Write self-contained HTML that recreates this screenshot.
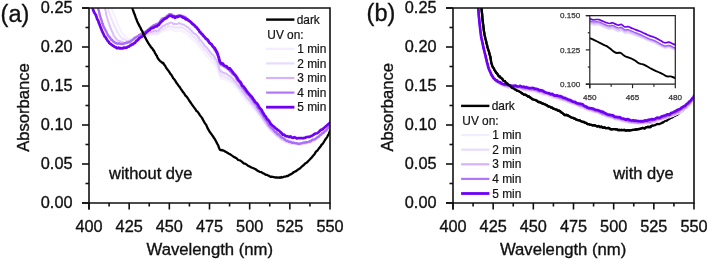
<!DOCTYPE html>
<html><head><meta charset="utf-8"><style>
html,body{margin:0;padding:0;background:#fff;overflow:hidden;width:708px;height:261px;}
svg{display:block;will-change:transform;}
text{font-family:"Liberation Sans",sans-serif;fill:#111;stroke:#111;stroke-width:0.35px;}
.leg text{stroke-width:0.2px;}
.ins text{fill:#333;stroke:#333;stroke-width:0.25px;}
</style></head><body>
<svg width="708" height="261" viewBox="0 0 708 261">
<defs>
<clipPath id="ca"><rect x="89" y="8" width="241" height="195"/></clipPath>
<clipPath id="cb"><rect x="453" y="8" width="241" height="195"/></clipPath>
<clipPath id="cb2"><rect x="453" y="8" width="200" height="195"/></clipPath>
<clipPath id="ci"><rect x="589.8" y="15.6" width="85.5" height="68.60000000000001"/></clipPath>
</defs>

<g clip-path="url(#ca)" fill="none" stroke-linejoin="round" stroke-linecap="round">
<path d="M110.0,3.1 L110.2,4.0 L110.4,4.6 L110.6,4.8 L110.8,6.3 L111.1,7.0 L111.5,7.8 L112.0,9.5 L112.5,11.0 L113.1,12.6 L113.8,14.2 L114.5,16.1 L115.1,17.4 L115.7,19.2 L116.4,20.7 L117.0,22.7 L117.7,24.2 L118.4,25.7 L119.1,27.0 L119.9,28.7 L120.6,30.3 L121.4,31.6 L122.2,33.4 L123.1,34.6 L123.9,34.4 L124.7,35.6 L125.6,36.9 L126.4,37.4 L127.3,38.1 L128.2,38.5 L129.0,39.5 L129.8,38.7 L130.6,39.1 L131.4,40.0 L132.3,39.5 L133.1,39.5 L134.0,39.0 L134.9,38.5 L135.9,38.9 L136.9,38.7 L138.0,38.0 L139.0,37.9 L140.0,37.8 L141.0,37.2 L141.9,37.2 L142.9,37.0 L143.9,36.6 L144.9,36.1 L146.0,36.2 L147.2,36.0 L148.5,35.5 L149.8,34.8 L151.2,34.9 L152.4,34.3 L153.5,34.6 L154.4,33.9 L155.3,34.6 L156.1,34.4 L156.8,34.1 L157.4,34.4 L158.1,34.4 L158.7,34.1 L159.3,33.3 L159.8,32.7 L160.3,32.6 L160.9,31.9 L161.5,31.7 L162.2,31.5 L163.0,30.5 L163.8,30.9 L164.6,31.0 L165.3,30.3 L166.1,30.0 L166.8,30.3 L167.5,29.9 L168.2,29.8 L168.9,29.2 L169.6,28.7 L170.3,29.2 L171.0,29.2 L171.8,29.9 L172.5,30.1 L173.3,30.0 L174.1,30.4 L174.9,31.3 L175.8,31.3 L176.6,30.7 L177.6,30.8 L178.5,30.7 L179.4,30.7 L180.3,30.9 L181.2,30.9 L182.1,31.1 L183.0,31.5 L183.8,32.4 L184.8,31.9 L185.7,33.2 L186.7,34.0 L187.7,34.3 L188.7,35.8 L189.8,36.4 L190.8,37.8 L191.8,38.4 L192.8,39.6 L193.8,40.8 L194.8,41.5 L195.7,42.1 L196.7,42.8 L197.5,44.8 L198.2,45.1 L198.9,45.8 L199.5,47.0 L200.1,47.7 L200.8,49.0 L201.5,49.6 L202.3,50.6 L203.1,51.3 L204.0,52.7 L204.9,53.2 L205.9,54.8 L206.9,56.3 L208.0,56.6 L209.2,57.7 L210.5,60.1 L211.7,62.2 L212.8,62.4 L213.8,63.5 L214.6,65.1 L215.2,65.4 L215.8,66.2 L216.3,67.0 L216.8,68.1 L217.3,68.8 L217.8,70.4 L218.3,71.8 L218.9,73.3 L219.3,75.1 L219.8,76.3 L220.3,77.6 L220.7,77.9 L221.1,78.2 L221.4,79.0 L221.8,78.5 L222.3,78.6 L223.0,79.0 L223.9,79.0 L225.0,79.4 L226.2,80.1 L227.5,80.5 L228.8,80.7 L230.0,82.0 L231.2,82.4 L232.3,83.2 L233.5,84.2 L234.6,85.5 L235.8,87.3 L236.9,87.6 L238.0,89.4 L239.0,90.0 L240.1,92.2 L241.1,94.0 L242.2,95.1 L243.4,96.6 L244.7,98.4 L246.1,100.2 L247.6,101.9 L249.1,103.9 L250.5,105.0 L251.8,106.2 L253.0,107.8 L254.1,109.1 L255.1,110.4 L256.1,111.6 L257.2,112.9 L258.2,113.6 L259.3,115.9 L260.3,116.9 L261.4,118.2 L262.4,120.3 L263.5,122.0 L264.5,123.2 L265.5,124.5 L266.6,125.5 L267.6,128.0 L268.7,128.7 L269.7,129.3 L270.8,130.6 L271.9,132.0 L273.0,132.6 L274.2,134.2 L275.3,135.0 L276.5,136.5 L277.7,137.3 L278.9,137.1 L280.2,138.9 L281.4,139.3 L282.7,141.0 L284.0,141.4 L285.3,142.2 L286.6,142.2 L287.9,143.6 L289.2,144.0 L290.4,143.3 L291.7,144.0 L293.0,143.9 L294.3,144.3 L295.5,144.1 L296.8,145.2 L298.1,144.4 L299.3,144.6 L300.6,144.9 L301.9,144.4 L303.2,144.3 L304.5,144.0 L305.7,143.8 L307.0,143.2 L308.3,143.0 L309.6,142.6 L310.8,142.0 L312.1,141.6 L313.4,140.8 L314.6,140.5 L315.9,139.4 L317.2,138.6 L318.5,137.5 L319.8,136.5 L321.1,135.2 L322.4,134.7 L323.6,133.1 L324.8,132.1 L326.0,131.3 L327.1,130.1 L328.2,128.7 L329.1,127.1 L330.0,126.9 L330.7,126.1 L331.3,125.0 L331.7,125.2 L332.1,124.3 L332.5,123.7 L333.0,123.5" stroke="#f6f0ff" stroke-width="2.0"/>
<path d="M106.5,3.1 L106.7,3.6 L106.9,4.4 L107.1,4.4 L107.3,6.6 L107.6,7.3 L107.9,7.9 L108.3,9.6 L108.7,10.9 L109.2,12.2 L109.8,14.4 L110.4,15.7 L111.0,17.5 L111.7,19.2 L112.5,21.5 L113.3,23.3 L114.2,25.5 L115.1,27.0 L115.9,28.9 L116.7,30.2 L117.5,32.3 L118.3,33.5 L119.1,34.8 L119.9,36.0 L120.7,36.6 L121.6,38.0 L122.4,39.1 L123.3,38.5 L124.2,39.0 L125.1,39.4 L126.0,40.5 L126.8,40.5 L127.7,40.9 L128.5,40.8 L129.3,40.6 L130.1,40.6 L131.0,40.2 L131.9,40.3 L132.9,39.4 L133.8,39.2 L134.8,39.0 L135.9,39.0 L137.0,37.8 L138.2,37.2 L139.5,36.8 L140.8,36.8 L142.2,35.9 L143.6,35.9 L145.0,34.4 L146.4,35.0 L147.9,34.6 L149.5,33.5 L150.9,33.7 L152.3,33.9 L153.5,33.3 L154.5,33.5 L155.4,33.9 L156.1,33.3 L156.8,33.1 L157.4,32.9 L158.1,33.1 L158.7,32.5 L159.3,32.0 L159.8,31.4 L160.3,31.0 L160.9,29.9 L161.5,29.2 L162.2,28.6 L163.0,29.4 L163.8,28.7 L164.6,28.8 L165.3,28.0 L166.1,27.5 L166.8,27.6 L167.5,27.1 L168.2,26.4 L168.9,26.2 L169.6,26.8 L170.3,26.3 L171.0,26.5 L171.8,26.5 L172.5,26.8 L173.3,27.6 L174.1,27.6 L174.9,27.6 L175.8,27.8 L176.6,27.4 L177.6,27.6 L178.5,27.7 L179.4,26.9 L180.3,27.7 L181.2,27.2 L182.1,27.8 L183.0,27.9 L183.8,28.5 L184.8,29.2 L185.7,29.6 L186.7,30.2 L187.7,31.0 L188.7,31.8 L189.8,32.4 L190.8,33.8 L191.8,34.9 L192.8,35.9 L193.8,36.8 L194.8,38.3 L195.7,38.6 L196.7,39.3 L197.5,40.9 L198.2,40.9 L198.9,42.4 L199.5,42.6 L200.1,43.9 L200.8,44.1 L201.5,45.9 L202.3,46.5 L203.1,47.2 L204.0,49.0 L204.9,49.8 L205.9,50.6 L206.9,51.5 L208.0,53.1 L209.2,54.5 L210.5,56.2 L211.7,57.7 L212.8,58.7 L213.8,59.9 L214.6,61.0 L215.2,61.6 L215.8,62.6 L216.3,63.5 L216.8,64.6 L217.3,65.9 L217.8,66.6 L218.3,68.7 L218.9,70.1 L219.3,72.6 L219.8,73.4 L220.3,74.6 L220.7,74.8 L221.1,75.2 L221.4,75.6 L221.8,75.4 L222.3,75.7 L223.0,75.4 L223.9,76.5 L225.0,76.5 L226.2,77.8 L227.5,77.8 L228.8,78.9 L230.0,78.9 L231.2,80.4 L232.3,81.0 L233.5,82.2 L234.6,83.5 L235.8,84.6 L236.9,86.1 L238.0,87.6 L239.0,88.9 L240.1,90.2 L241.1,91.3 L242.2,93.0 L243.4,94.7 L244.7,95.7 L246.1,98.2 L247.6,99.6 L249.1,101.3 L250.5,103.3 L251.8,104.7 L253.0,106.0 L254.1,107.0 L255.1,108.7 L256.1,110.0 L257.2,110.9 L258.2,112.9 L259.3,114.2 L260.3,115.0 L261.4,117.2 L262.4,118.3 L263.5,120.7 L264.5,122.0 L265.5,122.9 L266.6,124.3 L267.6,126.0 L268.7,127.3 L269.7,129.1 L270.8,130.1 L271.9,131.0 L273.0,132.3 L274.2,132.6 L275.3,134.3 L276.5,135.5 L277.7,136.2 L278.9,136.9 L280.2,138.3 L281.4,139.7 L282.7,140.0 L284.0,140.4 L285.3,141.9 L286.6,141.4 L287.9,142.6 L289.2,142.6 L290.4,143.4 L291.7,143.1 L293.0,144.0 L294.3,143.9 L295.5,143.5 L296.8,143.5 L298.1,144.2 L299.3,144.7 L300.6,144.3 L301.9,144.2 L303.2,144.0 L304.5,144.1 L305.7,143.7 L307.0,143.3 L308.3,142.5 L309.6,142.7 L310.8,142.3 L312.1,140.8 L313.4,141.4 L314.6,140.2 L315.9,139.0 L317.2,137.7 L318.5,137.6 L319.8,136.5 L321.1,135.1 L322.4,133.7 L323.6,133.5 L324.8,131.9 L326.0,130.7 L327.1,130.6 L328.2,129.2 L329.1,127.7 L330.0,126.4 L330.7,126.0 L331.3,124.4 L331.7,124.7 L332.1,123.9 L332.5,123.3 L333.0,122.7" stroke="#ede2ff" stroke-width="2.0"/>
<path d="M103.5,3.7 L103.7,2.9 L103.9,4.5 L104.1,4.8 L104.3,5.6 L104.6,6.6 L104.9,7.4 L105.3,9.7 L105.8,11.6 L106.3,15.2 L106.9,16.6 L107.4,18.7 L108.0,20.8 L108.6,22.5 L109.2,24.1 L109.8,25.9 L110.4,27.7 L111.0,29.0 L111.7,30.8 L112.3,31.9 L113.0,33.5 L113.6,35.4 L114.3,36.4 L115.1,37.3 L115.9,38.4 L116.9,39.6 L117.9,40.8 L119.1,40.7 L120.2,41.2 L121.3,42.1 L122.3,41.8 L123.2,42.3 L123.9,42.8 L124.7,42.7 L125.4,42.6 L126.2,42.7 L127.0,41.4 L127.9,42.4 L128.9,41.5 L129.9,41.0 L131.0,41.2 L132.0,40.9 L133.0,40.1 L134.0,39.3 L135.0,39.1 L136.0,38.4 L137.0,38.2 L138.0,37.3 L139.0,36.6 L140.0,36.3 L140.9,35.3 L141.8,34.6 L142.8,34.6 L143.9,34.1 L145.0,33.4 L146.3,32.8 L147.8,32.8 L149.3,31.5 L150.9,32.2 L152.3,31.8 L153.5,30.9 L154.5,31.3 L155.4,30.9 L156.1,31.4 L156.8,30.4 L157.4,30.6 L158.1,30.8 L158.7,30.5 L159.3,28.9 L159.8,28.8 L160.3,28.4 L160.9,27.4 L161.5,27.6 L162.2,26.2 L163.0,26.3 L163.8,25.4 L164.6,25.8 L165.3,25.0 L166.1,24.5 L166.8,23.7 L167.5,24.4 L168.2,23.7 L168.9,23.3 L169.6,23.2 L170.3,22.8 L171.0,22.6 L171.8,22.8 L172.5,23.2 L173.3,24.2 L174.1,23.6 L174.9,24.1 L175.8,24.1 L176.6,24.1 L177.6,24.0 L178.5,23.2 L179.4,23.0 L180.3,23.5 L181.2,24.1 L182.1,24.3 L183.0,24.5 L183.8,24.7 L184.8,25.4 L185.7,25.9 L186.7,26.9 L187.7,27.1 L188.7,28.2 L189.8,29.0 L190.8,30.2 L191.8,30.9 L192.8,32.6 L193.8,33.1 L194.8,34.1 L195.7,33.9 L196.7,35.3 L197.5,36.2 L198.2,37.4 L198.9,37.4 L199.5,39.3 L200.1,40.2 L200.8,40.3 L201.5,41.3 L202.3,42.3 L203.1,43.5 L204.0,44.7 L204.9,46.2 L205.9,46.5 L206.9,48.0 L208.0,49.1 L209.2,51.1 L210.5,52.3 L211.7,54.0 L212.8,54.6 L213.8,56.1 L214.6,57.0 L215.2,58.6 L215.8,59.1 L216.3,59.6 L216.8,60.5 L217.3,61.9 L217.8,62.9 L218.3,64.5 L218.9,66.7 L219.3,69.1 L219.8,69.7 L220.3,70.7 L220.7,71.2 L221.1,71.4 L221.4,72.2 L221.8,72.3 L222.3,72.1 L223.0,72.6 L223.9,73.0 L225.0,73.5 L226.2,73.6 L227.5,74.7 L228.8,75.6 L230.0,76.2 L231.2,77.3 L232.3,78.3 L233.5,79.6 L234.6,81.2 L235.8,82.1 L236.9,83.5 L238.0,85.2 L239.0,86.6 L240.1,88.4 L241.1,88.7 L242.2,91.2 L243.4,92.4 L244.7,94.2 L246.1,96.1 L247.6,98.0 L249.1,99.7 L250.5,101.1 L251.8,103.2 L253.0,104.1 L254.1,105.5 L255.1,107.2 L256.1,108.2 L257.2,110.4 L258.2,111.5 L259.3,113.5 L260.3,114.4 L261.4,115.9 L262.4,117.7 L263.5,119.5 L264.5,120.7 L265.5,122.5 L266.6,123.9 L267.6,125.8 L268.7,126.5 L269.7,128.4 L270.8,129.2 L271.9,130.3 L273.0,131.5 L274.2,132.4 L275.3,133.8 L276.5,135.1 L277.7,135.8 L278.9,136.9 L280.2,138.2 L281.4,138.7 L282.7,139.5 L284.0,140.1 L285.3,140.4 L286.6,141.7 L287.9,141.4 L289.2,142.5 L290.4,142.6 L291.7,143.2 L293.0,143.1 L294.3,143.1 L295.5,143.6 L296.8,143.5 L298.1,143.7 L299.3,143.8 L300.6,143.8 L301.9,143.6 L303.2,143.3 L304.5,143.3 L305.7,142.3 L307.0,142.6 L308.3,141.9 L309.6,142.2 L310.8,141.8 L312.1,140.2 L313.4,140.2 L314.6,139.5 L315.9,138.4 L317.2,138.1 L318.5,136.8 L319.8,135.4 L321.1,134.9 L322.4,133.9 L323.6,132.9 L324.8,131.4 L326.0,130.8 L327.1,129.7 L328.2,127.9 L329.1,127.0 L330.0,126.3 L330.7,125.4 L331.3,125.5 L331.7,124.5 L332.1,123.7 L332.5,123.3 L333.0,123.0" stroke="#dabdfd" stroke-width="2.0"/>
<path d="M96.6,2.8 L96.8,3.7 L97.0,5.0 L97.2,5.4 L97.4,5.5 L97.7,6.9 L98.0,7.8 L98.4,9.4 L98.7,10.3 L99.2,12.6 L99.6,14.3 L100.1,16.4 L100.6,17.7 L101.1,19.4 L101.6,20.4 L102.2,23.2 L102.7,23.5 L103.3,26.1 L104.0,27.2 L104.7,28.6 L105.5,30.2 L106.3,31.8 L107.1,33.6 L107.9,34.8 L108.7,36.6 L109.4,36.6 L110.1,38.1 L110.7,38.7 L111.3,39.9 L112.0,39.7 L112.7,40.9 L113.4,41.6 L114.2,41.6 L115.0,42.8 L115.8,42.9 L116.6,43.5 L117.5,43.7 L118.5,43.3 L119.5,43.5 L120.6,43.8 L121.7,44.1 L122.8,44.1 L123.9,43.5 L124.9,43.3 L125.9,43.0 L126.9,42.7 L127.9,42.5 L128.9,42.0 L130.0,42.2 L131.1,40.7 L132.3,39.9 L133.4,39.3 L134.6,37.9 L135.8,37.2 L137.0,36.5 L138.2,36.0 L139.3,34.7 L140.4,34.9 L141.6,33.7 L142.8,33.2 L144.1,32.6 L145.6,31.5 L147.2,30.4 L149.0,28.9 L150.6,27.6 L152.2,26.6 L153.5,25.3 L154.6,25.5 L155.4,24.5 L156.2,24.1 L156.8,25.0 L157.5,24.1 L158.1,23.4 L158.7,23.8 L159.3,22.4 L159.8,22.2 L160.3,20.9 L160.9,20.3 L161.5,19.3 L162.2,18.6 L163.0,18.4 L163.8,18.2 L164.6,18.0 L165.3,18.0 L166.1,16.5 L166.8,16.7 L167.5,15.6 L168.2,15.3 L168.9,14.4 L169.6,14.1 L170.3,14.2 L171.0,14.1 L171.8,14.7 L172.5,14.9 L173.3,15.9 L174.1,15.9 L174.9,16.1 L175.8,16.3 L176.6,16.0 L177.6,15.6 L178.5,15.4 L179.4,15.2 L180.3,15.7 L181.2,15.8 L182.1,15.9 L183.0,16.4 L183.8,16.5 L184.8,17.3 L185.7,17.3 L186.7,18.9 L187.7,19.2 L188.7,20.1 L189.8,21.1 L190.8,21.9 L191.8,22.7 L192.8,24.0 L193.8,24.6 L194.8,25.2 L195.7,26.6 L196.7,26.9 L197.5,28.9 L198.2,29.2 L198.9,30.1 L199.5,31.7 L200.1,32.5 L200.8,32.7 L201.5,33.8 L202.3,34.9 L203.1,36.1 L204.0,36.5 L204.9,37.6 L205.9,39.0 L206.9,39.9 L208.0,41.3 L209.2,42.8 L210.5,43.7 L211.7,45.4 L212.8,46.2 L213.8,48.3 L214.6,49.9 L215.2,50.1 L215.8,51.7 L216.3,52.5 L216.8,53.1 L217.3,54.3 L217.8,55.7 L218.3,57.2 L218.9,59.1 L219.3,61.0 L219.8,62.7 L220.3,64.0 L220.7,64.2 L221.1,65.0 L221.4,64.7 L221.8,65.0 L222.3,65.3 L223.0,65.6 L223.9,66.2 L225.0,67.1 L226.2,67.7 L227.5,68.6 L228.8,69.7 L230.0,71.2 L231.2,72.0 L232.3,73.9 L233.5,74.8 L234.6,75.2 L235.8,77.4 L236.9,79.6 L238.0,80.5 L239.0,81.9 L240.1,83.3 L241.1,85.6 L242.2,87.2 L243.4,88.7 L244.7,90.4 L246.1,92.5 L247.6,94.2 L249.1,95.4 L250.5,97.8 L251.8,99.3 L253.0,100.8 L254.1,102.5 L255.1,103.7 L256.1,104.2 L257.2,107.1 L258.2,108.4 L259.3,109.7 L260.3,111.3 L261.4,113.2 L262.4,114.4 L263.5,116.6 L264.5,118.0 L265.5,119.5 L266.6,120.9 L267.6,122.5 L268.7,124.5 L269.7,126.0 L270.8,127.1 L271.9,128.2 L273.0,129.2 L274.2,130.8 L275.3,132.2 L276.5,132.3 L277.7,134.3 L278.9,134.3 L280.2,136.0 L281.4,137.2 L282.7,137.7 L284.0,138.5 L285.3,139.9 L286.6,140.7 L287.9,140.8 L289.2,141.9 L290.4,141.6 L291.7,142.7 L293.0,142.5 L294.3,142.8 L295.5,143.1 L296.8,143.2 L298.1,143.8 L299.3,143.9 L300.6,143.4 L301.9,143.1 L303.2,142.6 L304.5,142.5 L305.7,142.5 L307.0,142.1 L308.3,141.8 L309.6,141.3 L310.8,141.0 L312.1,139.9 L313.4,139.4 L314.6,139.4 L315.9,138.5 L317.2,137.3 L318.5,136.9 L319.8,135.3 L321.1,134.4 L322.4,132.8 L323.6,132.7 L324.8,131.3 L326.0,130.5 L327.1,129.2 L328.2,127.8 L329.1,126.8 L330.0,126.2 L330.7,125.0 L331.3,124.4 L331.7,124.0 L332.1,123.7 L332.5,123.3 L333.0,123.1" stroke="#ab6ef9" stroke-width="2.4"/>
<path d="M91.0,2.7 L91.2,3.4 L91.4,4.5 L91.5,5.4 L91.7,6.4 L92.0,7.0 L92.4,7.8 L92.9,8.9 L93.5,10.8 L94.2,12.5 L94.9,13.5 L95.6,14.6 L96.3,16.2 L97.0,18.6 L97.6,19.8 L98.3,20.9 L98.9,23.2 L99.6,24.5 L100.2,26.3 L100.8,27.9 L101.4,29.3 L102.1,31.1 L102.7,32.3 L103.3,33.5 L104.0,35.1 L104.7,36.6 L105.4,37.0 L106.2,38.7 L107.0,39.6 L107.7,41.0 L108.5,41.6 L109.2,42.9 L110.0,43.6 L110.7,44.2 L111.4,44.6 L112.2,45.3 L113.0,45.7 L113.8,46.1 L114.7,47.0 L115.6,47.0 L116.6,48.1 L117.5,48.2 L118.5,47.6 L119.5,48.4 L120.5,48.1 L121.6,48.4 L122.7,48.4 L123.7,47.6 L124.8,47.9 L125.8,47.6 L126.9,47.7 L127.9,46.6 L129.0,46.7 L130.0,45.6 L131.0,45.2 L132.0,44.3 L133.0,44.3 L133.9,43.2 L134.9,42.9 L135.9,41.4 L137.0,40.6 L138.2,39.6 L139.4,38.2 L140.7,37.3 L142.0,36.8 L143.1,35.3 L144.1,34.7 L144.9,33.9 L145.5,33.5 L146.0,32.7 L146.5,32.2 L147.0,31.8 L147.7,31.2 L148.6,30.3 L149.5,30.2 L150.5,28.9 L151.6,28.3 L152.6,27.7 L153.5,27.9 L154.3,27.1 L155.2,26.6 L155.9,26.3 L156.7,26.5 L157.4,25.7 L158.1,25.2 L158.7,25.2 L159.3,24.0 L159.8,23.5 L160.3,22.9 L160.9,22.0 L161.5,21.5 L162.2,21.3 L163.0,20.2 L163.8,19.4 L164.6,18.7 L165.3,18.7 L166.1,18.2 L166.8,17.9 L167.5,17.1 L168.2,16.6 L168.9,16.0 L169.6,15.7 L170.3,15.8 L171.0,15.6 L171.8,16.0 L172.5,16.9 L173.3,16.9 L174.1,16.5 L174.9,17.8 L175.8,17.3 L176.6,16.7 L177.6,17.0 L178.5,16.5 L179.4,16.2 L180.3,16.2 L181.2,16.3 L182.1,16.9 L183.0,17.6 L183.8,17.5 L184.8,18.3 L185.7,19.3 L186.7,18.9 L187.7,20.1 L188.7,20.7 L189.8,21.3 L190.8,22.1 L191.8,23.3 L192.8,24.3 L193.8,24.8 L194.8,25.9 L195.7,27.0 L196.7,27.7 L197.5,28.8 L198.2,29.5 L198.9,30.3 L199.5,31.6 L200.1,32.0 L200.8,32.7 L201.5,33.7 L202.3,34.1 L203.1,35.2 L204.0,36.4 L204.9,37.3 L205.9,38.6 L206.9,39.2 L208.0,40.0 L209.2,42.4 L210.5,43.6 L211.7,44.4 L212.8,46.5 L213.8,47.3 L214.6,47.8 L215.2,49.1 L215.8,49.9 L216.3,51.4 L216.8,51.6 L217.3,52.9 L217.8,54.3 L218.3,56.0 L218.9,57.6 L219.3,59.7 L219.8,61.5 L220.3,62.5 L220.7,62.7 L221.1,63.0 L221.4,63.5 L221.8,63.3 L222.3,63.5 L223.0,63.6 L223.9,65.3 L225.0,65.7 L226.2,66.0 L227.5,67.5 L228.8,68.6 L230.0,68.4 L231.2,70.2 L232.3,71.5 L233.5,73.1 L234.6,74.3 L235.8,75.7 L236.9,77.2 L238.0,79.3 L239.0,80.9 L240.1,81.6 L241.1,83.0 L242.2,85.8 L243.4,86.3 L244.7,88.1 L246.1,90.1 L247.6,92.1 L249.1,94.0 L250.5,95.6 L251.8,96.8 L253.0,98.8 L254.1,100.1 L255.1,102.0 L256.1,102.7 L257.2,103.6 L258.2,105.2 L259.3,107.5 L260.3,108.5 L261.4,109.6 L262.4,111.7 L263.5,113.5 L264.5,115.4 L265.5,116.2 L266.6,118.2 L267.6,119.6 L268.7,120.6 L269.7,122.1 L270.8,124.0 L271.9,125.2 L273.0,126.0 L274.2,126.9 L275.3,128.2 L276.5,128.9 L277.7,129.9 L278.9,130.6 L280.2,131.9 L281.4,132.8 L282.7,134.7 L284.0,134.5 L285.3,135.7 L286.6,136.3 L287.9,136.3 L289.2,137.1 L290.4,136.4 L291.7,137.4 L293.0,137.9 L294.3,137.1 L295.5,137.7 L296.8,138.5 L298.1,138.2 L299.3,138.0 L300.6,138.2 L301.9,138.0 L303.2,138.3 L304.5,137.9 L305.7,137.4 L307.0,137.0 L308.3,136.8 L309.6,136.8 L310.8,136.1 L312.1,135.7 L313.4,134.9 L314.6,133.9 L315.9,133.5 L317.2,133.2 L318.5,132.2 L319.8,130.9 L321.1,129.8 L322.4,129.4 L323.6,128.3 L324.8,127.3 L326.0,126.2 L327.1,125.3 L328.2,124.2 L329.1,123.5 L330.0,122.6 L330.7,122.0 L331.3,121.3 L331.7,120.4 L332.1,120.0 L332.5,119.7 L333.0,118.9" stroke="#6f00f2" stroke-width="2.7"/>
<path d="M131.0,3.2 L131.2,4.2 L131.4,4.0 L131.6,5.3 L131.8,6.3 L132.1,7.3 L132.4,8.1 L132.8,9.5 L133.2,10.7 L133.7,12.2 L134.2,13.6 L134.8,14.8 L135.3,16.3 L135.8,18.0 L136.4,19.1 L137.0,20.9 L137.6,22.2 L138.2,23.6 L138.8,24.5 L139.4,26.0 L139.9,26.7 L140.5,27.8 L141.1,29.2 L141.6,30.3 L142.2,31.0 L142.8,32.2 L143.3,33.8 L143.9,34.7 L144.5,36.3 L145.1,37.2 L145.7,38.4 L146.3,39.5 L146.9,40.8 L147.6,41.7 L148.2,43.1 L148.8,43.8 L149.5,45.0 L150.2,45.8 L150.9,47.1 L151.7,47.9 L152.4,48.6 L153.1,50.1 L153.7,50.4 L154.2,51.3 L154.7,52.3 L155.1,53.4 L155.6,53.8 L156.0,54.8 L156.4,55.4 L156.9,55.9 L157.3,57.3 L157.8,58.2 L158.2,58.7 L158.7,59.5 L159.1,59.8 L159.5,60.2 L159.9,60.9 L160.3,61.4 L160.7,61.4 L161.1,61.8 L161.5,62.2 L161.8,62.3 L162.2,62.6 L162.5,63.0 L162.8,62.6 L163.1,63.3 L163.5,63.2 L163.9,64.3 L164.4,64.9 L164.9,65.5 L165.4,66.2 L165.9,67.3 L166.4,68.0 L166.9,68.9 L167.4,69.3 L167.9,70.3 L168.5,70.7 L169.1,71.8 L169.8,72.7 L170.6,74.2 L171.4,74.9 L172.3,76.5 L173.2,78.2 L174.2,79.3 L175.2,80.6 L176.2,82.5 L177.3,83.9 L178.5,85.7 L179.6,86.9 L180.8,88.8 L181.9,90.4 L183.0,92.1 L184.1,93.2 L185.2,95.3 L186.4,96.4 L187.5,97.8 L188.6,99.5 L189.7,101.3 L190.8,102.8 L191.9,104.5 L193.1,106.1 L194.2,107.6 L195.3,109.0 L196.4,111.0 L197.5,111.6 L198.6,113.1 L199.7,114.9 L200.8,116.4 L202.0,117.9 L203.3,120.4 L204.7,122.8 L206.2,124.9 L207.6,128.2 L209.0,130.6 L210.2,132.6 L211.3,133.9 L212.3,135.5 L213.2,136.6 L214.0,138.1 L214.8,139.0 L215.5,140.4 L216.1,141.3 L216.6,142.6 L217.1,143.4 L217.5,144.4 L217.8,144.6 L218.2,145.3 L218.5,146.6 L218.8,147.1 L219.1,148.1 L219.4,148.7 L219.7,149.3 L220.1,149.9 L220.6,150.1 L221.0,150.2 L221.5,149.9 L222.1,150.5 L222.8,150.2 L223.6,150.7 L224.5,151.0 L225.5,151.8 L226.6,152.3 L227.7,153.0 L229.0,153.8 L230.3,154.4 L231.7,155.4 L233.2,156.4 L234.9,157.4 L236.5,158.2 L238.2,160.0 L240.0,160.4 L241.8,161.6 L243.7,163.4 L245.6,163.9 L247.6,165.4 L249.6,166.5 L251.5,167.5 L253.5,168.3 L255.6,169.3 L257.6,170.7 L259.6,171.8 L261.4,172.1 L263.0,173.3 L264.3,173.8 L265.3,174.5 L266.1,174.8 L266.9,174.8 L267.6,175.2 L268.5,175.6 L269.5,176.2 L270.6,176.9 L271.6,176.6 L272.7,176.8 L273.6,177.2 L274.5,177.2 L275.2,177.5 L275.9,177.5 L276.4,177.5 L276.9,177.3 L277.5,177.6 L278.0,177.7 L278.6,177.5 L279.1,177.8 L279.6,177.7 L280.2,177.4 L280.8,177.7 L281.4,177.0 L282.1,177.4 L282.8,177.4 L283.6,176.8 L284.4,176.6 L285.2,176.7 L286.0,176.5 L286.7,176.1 L287.3,176.0 L287.9,176.0 L288.6,175.6 L289.4,174.8 L290.6,174.4 L292.1,173.5 L294.0,172.0 L296.1,171.1 L298.2,169.4 L300.2,168.2 L302.1,166.3 L303.8,165.0 L305.3,163.4 L306.8,162.6 L308.3,161.0 L309.8,159.5 L311.3,157.9 L312.9,156.0 L314.5,154.2 L316.0,151.7 L317.6,150.3 L319.1,148.2 L320.5,146.5 L321.8,144.5 L323.1,143.3 L324.3,141.2 L325.5,139.2 L326.5,138.0 L327.4,136.5 L328.1,135.1 L328.6,134.2 L329.1,133.2 L329.4,132.0 L329.8,131.3 L330.2,130.8 L330.7,129.8 L331.1,128.9 L331.6,127.6 L332.1,126.8 L332.5,126.0 L333.0,125.2" stroke="#000" stroke-width="2.3"/>
</g>
<g clip-path="url(#cb)" fill="none" stroke-linejoin="round" stroke-linecap="round">
<path d="M480.9,3.0 L481.0,3.8 L481.1,4.3 L481.1,4.7 L481.2,5.6 L481.3,6.4 L481.5,8.2 L481.7,10.6 L481.9,12.4 L482.2,15.1 L482.4,18.3 L482.7,21.0 L483.0,23.5 L483.3,25.6 L483.6,28.3 L483.9,30.9 L484.2,32.5 L484.6,35.0 L485.0,36.7 L485.5,39.0 L486.0,40.8 L486.5,43.3 L487.0,44.9 L487.5,47.2 L488.0,48.9 L488.4,50.3 L488.8,51.0 L489.2,52.9 L489.6,54.4 L490.0,55.7 L490.3,56.5 L490.6,58.2 L490.8,59.4 L491.0,60.9 L491.3,62.8 L491.6,63.6 L492.1,65.3 L492.8,67.1 L493.6,68.1 L494.4,69.8 L495.4,71.4 L496.3,72.8 L497.2,73.6 L498.1,75.1 L498.9,76.4 L499.8,76.3 L500.7,77.8 L501.5,78.3 L502.4,78.9 L503.2,80.6 L504.1,81.0 L504.9,81.2 L505.7,82.4 L506.6,83.4 L507.6,83.9 L508.6,85.0 L509.7,85.6 L510.8,86.7 L512.0,87.8 L513.2,88.0 L514.5,89.1 L515.9,89.7 L517.3,90.7 L518.8,91.1 L520.3,92.1 L521.7,93.0 L523.1,94.1 L524.3,94.8 L525.5,94.7 L526.7,95.5 L527.8,96.5 L528.9,96.3 L530.0,97.4 L531.2,98.1 L532.3,99.1 L533.5,99.5 L534.6,99.8 L535.8,100.3 L537.0,100.9 L538.2,102.0 L539.4,102.0 L540.7,102.6 L541.9,103.3 L543.1,103.7 L544.2,104.1 L545.2,104.3 L546.2,105.1 L547.1,105.4 L548.0,106.3 L549.0,106.5 L550.0,106.8 L551.1,107.5 L552.2,107.7 L553.3,108.7 L554.5,108.9 L555.7,109.6 L556.8,109.6 L557.9,110.7 L558.9,110.6 L559.9,111.1 L561.0,112.3 L562.1,112.8 L563.4,113.8 L564.8,115.1 L566.4,114.8 L568.0,115.6 L569.7,116.6 L571.4,117.5 L573.0,117.9 L574.6,118.6 L576.2,119.6 L577.9,120.2 L579.5,120.3 L581.0,121.2 L582.5,121.8 L583.9,122.0 L585.1,122.9 L586.3,123.0 L587.5,124.1 L588.7,124.2 L590.0,124.6 L591.4,124.8 L592.8,125.3 L594.2,125.1 L595.7,125.7 L597.2,126.5 L598.6,126.0 L600.0,127.2 L601.5,126.7 L602.9,127.7 L604.3,127.4 L605.8,128.1 L607.2,128.1 L608.7,127.8 L610.2,129.0 L611.7,129.3 L613.1,129.1 L614.6,129.2 L615.9,129.4 L617.1,129.4 L618.2,130.2 L619.2,129.8 L620.3,130.1 L621.5,130.0 L622.8,130.1 L624.3,129.9 L626.0,130.7 L627.8,130.2 L629.7,130.5 L631.4,130.1 L633.1,129.8 L634.6,129.7 L636.1,129.5 L637.5,129.4 L638.9,129.0 L640.3,128.8 L641.7,128.2 L643.1,128.0 L644.5,128.5 L645.9,127.4 L647.3,127.0 L648.8,127.0 L650.3,127.0 L652.0,125.6 L653.8,125.5 L655.7,124.8 L657.5,123.9 L659.1,124.2 L660.5,123.5 L661.6,123.1 L662.4,122.5 L663.1,122.5 L663.7,121.8 L664.3,121.6 L665.0,120.8 L665.8,120.4 L666.6,120.8 L667.3,119.8 L668.2,119.6 L669.0,119.0 L670.0,118.4 L671.1,117.8 L672.2,117.5 L673.4,116.5 L674.7,115.9 L675.9,115.2 L677.0,114.9 L678.1,114.0 L679.1,113.2 L680.1,112.1 L681.1,111.1 L682.1,111.1 L683.0,110.3 L683.9,109.2 L684.7,108.6 L685.5,107.9 L686.3,107.1 L687.1,106.2 L688.0,104.9 L689.0,104.4 L690.0,102.3 L691.1,101.7 L692.2,100.3 L693.2,99.3 L694.0,98.6 L694.7,97.6 L695.2,96.1 L695.7,95.3 L696.1,95.5 L696.5,94.3 L697.0,94.0" stroke="#000" stroke-width="2.3"/>
<path d="M477.6,3.3 L477.7,4.5 L477.8,5.1 L477.8,5.1 L477.9,5.9 L478.1,6.9 L478.2,8.7 L478.4,10.5 L478.6,13.2 L478.8,15.1 L479.1,19.0 L479.3,21.3 L479.6,24.1 L479.9,26.3 L480.1,28.6 L480.4,31.2 L480.7,33.6 L481.0,35.5 L481.3,37.7 L481.7,40.1 L482.1,41.6 L482.5,43.4 L483.0,45.9 L483.4,47.4 L483.8,48.7 L484.2,50.8 L484.6,52.5 L484.9,53.8 L485.3,55.2 L485.6,57.2 L486.0,58.9 L486.4,60.0 L486.7,61.3 L487.0,63.1 L487.4,64.6 L487.8,65.7 L488.2,67.4 L488.6,69.0 L489.1,70.0 L489.6,71.2 L490.1,73.0 L490.7,74.3 L491.3,75.8 L492.0,76.2 L492.7,77.4 L493.4,78.4 L494.2,79.1 L495.1,80.6 L496.0,81.6 L497.0,82.0 L498.0,83.4 L499.1,83.9 L500.2,84.5 L501.3,85.0 L502.4,85.7 L503.5,85.5 L504.6,86.6 L505.7,87.1 L506.9,86.7 L508.0,87.7 L509.3,87.8 L510.7,88.4 L512.1,88.3 L513.6,88.6 L515.1,88.8 L516.5,88.6 L517.9,89.3 L519.1,89.3 L520.3,89.7 L521.4,89.6 L522.5,90.4 L523.7,90.5 L525.0,90.5 L526.5,90.9 L528.0,91.3 L529.6,91.7 L531.3,90.8 L533.0,91.9 L534.6,92.0 L536.2,92.3 L537.8,92.4 L539.4,93.7 L541.0,93.4 L542.6,94.5 L544.2,95.2 L545.8,94.8 L547.4,95.7 L549.0,95.8 L550.6,96.8 L552.2,97.7 L553.8,98.3 L555.4,97.6 L557.0,98.5 L558.6,99.5 L560.2,100.3 L561.8,100.5 L563.4,100.6 L565.0,101.5 L566.6,102.0 L568.2,102.5 L569.8,102.9 L571.4,103.8 L573.0,104.4 L574.6,104.9 L576.2,105.5 L577.9,105.8 L579.5,106.7 L581.0,107.8 L582.5,108.0 L583.9,108.1 L585.1,109.5 L586.3,109.7 L587.5,110.7 L588.7,110.5 L590.0,110.8 L591.4,110.9 L592.8,112.2 L594.2,113.0 L595.7,112.3 L597.2,112.8 L598.6,113.7 L600.0,113.8 L601.5,114.5 L602.9,115.1 L604.3,115.9 L605.8,116.8 L607.2,117.0 L608.6,117.8 L610.1,117.8 L611.6,118.5 L613.0,118.1 L614.5,118.7 L615.9,119.9 L617.3,119.8 L618.8,120.6 L620.2,120.9 L621.6,121.5 L623.1,121.7 L624.5,122.1 L626.0,122.1 L627.4,122.2 L628.9,122.5 L630.4,122.9 L631.8,122.9 L633.1,123.3 L634.3,123.6 L635.4,123.9 L636.4,123.7 L637.5,123.3 L638.7,123.9 L640.0,124.0 L641.5,124.2 L643.2,124.0 L644.9,123.5 L646.7,123.4 L648.5,124.1 L650.3,123.4 L652.0,123.4 L653.7,123.1 L655.4,121.6 L657.1,121.5 L658.8,120.9 L660.5,120.4 L662.2,119.9 L664.0,119.3 L665.8,118.7 L667.6,117.6 L669.3,117.4 L671.1,116.6 L672.9,116.1 L674.8,115.0 L676.6,114.4 L678.4,113.6 L680.1,112.5 L681.6,111.6 L682.9,110.7 L684.1,109.8 L685.1,109.1 L686.1,108.2 L687.1,107.7 L688.0,106.7 L689.0,105.9 L689.9,104.3 L690.8,104.0 L691.6,102.4 L692.4,101.4 L693.2,100.6 L693.9,99.6 L694.6,99.0 L695.2,97.9 L695.8,96.9 L696.4,96.1 L697.0,95.9" stroke="#f4edff" stroke-width="2.0"/>
<path d="M477.6,3.2 L477.7,4.3 L477.8,4.8 L477.8,5.4 L477.9,6.5 L478.1,6.6 L478.2,8.2 L478.4,10.0 L478.6,12.8 L478.8,15.9 L479.1,18.4 L479.3,21.4 L479.6,23.2 L479.9,26.3 L480.1,28.3 L480.4,31.5 L480.7,33.5 L481.0,35.8 L481.3,37.6 L481.7,39.9 L482.1,42.0 L482.5,43.6 L483.0,45.5 L483.4,47.4 L483.8,49.0 L484.2,50.7 L484.6,52.4 L484.9,53.8 L485.3,55.8 L485.6,56.5 L486.0,58.7 L486.4,59.8 L486.7,61.2 L487.0,62.4 L487.4,64.2 L487.8,65.6 L488.2,67.1 L488.6,68.3 L489.1,69.9 L489.6,71.9 L490.1,72.8 L490.7,73.8 L491.3,75.5 L492.0,76.3 L492.7,77.6 L493.4,78.6 L494.2,79.3 L495.1,79.7 L496.0,81.0 L497.0,82.1 L498.0,82.5 L499.1,83.5 L500.2,84.3 L501.3,84.4 L502.4,85.5 L503.5,86.1 L504.6,86.4 L505.7,86.8 L506.9,87.2 L508.0,87.9 L509.3,87.5 L510.7,87.7 L512.1,88.1 L513.6,87.8 L515.1,87.8 L516.5,88.1 L517.9,88.7 L519.1,89.0 L520.3,88.6 L521.4,88.7 L522.5,89.4 L523.7,89.7 L525.0,90.0 L526.5,90.4 L528.0,90.8 L529.6,90.7 L531.3,91.0 L533.0,90.7 L534.6,91.0 L536.2,91.9 L537.8,92.5 L539.4,93.0 L541.0,93.5 L542.6,94.1 L544.2,94.6 L545.8,94.2 L547.4,95.0 L549.0,95.9 L550.6,96.4 L552.2,96.2 L553.8,97.6 L555.4,97.6 L557.0,98.2 L558.6,98.8 L560.2,99.5 L561.8,99.4 L563.4,100.7 L565.0,101.0 L566.6,101.2 L568.2,102.0 L569.8,101.9 L571.4,103.0 L573.0,103.9 L574.6,104.2 L576.2,104.9 L577.9,105.7 L579.5,106.4 L581.0,107.3 L582.5,107.5 L583.9,108.0 L585.1,108.8 L586.3,109.7 L587.5,109.4 L588.7,110.2 L590.0,110.0 L591.4,111.3 L592.8,111.5 L594.2,112.1 L595.7,112.1 L597.2,112.2 L598.6,113.3 L600.0,113.8 L601.5,113.9 L602.9,114.3 L604.3,115.5 L605.8,115.9 L607.2,117.3 L608.6,116.8 L610.1,117.3 L611.6,117.8 L613.0,117.8 L614.5,118.4 L615.9,119.6 L617.3,119.5 L618.8,119.7 L620.2,119.8 L621.6,120.8 L623.1,121.2 L624.5,121.4 L626.0,121.5 L627.4,122.0 L628.9,122.4 L630.4,122.3 L631.8,123.0 L633.1,122.3 L634.3,122.7 L635.4,123.2 L636.4,123.3 L637.5,123.0 L638.7,123.5 L640.0,123.7 L641.5,123.5 L643.2,123.4 L644.9,123.5 L646.7,123.2 L648.5,122.6 L650.3,122.6 L652.0,122.7 L653.7,121.5 L655.4,121.4 L657.1,120.7 L658.8,120.0 L660.5,119.4 L662.2,119.3 L664.0,118.8 L665.8,118.3 L667.6,117.1 L669.3,116.9 L671.1,116.4 L672.9,115.8 L674.8,114.9 L676.6,114.0 L678.4,113.1 L680.1,112.1 L681.6,110.7 L682.9,110.2 L684.1,109.2 L685.1,107.9 L686.1,107.3 L687.1,107.7 L688.0,105.8 L689.0,104.5 L689.9,104.1 L690.8,103.7 L691.6,102.2 L692.4,101.3 L693.2,100.1 L693.9,99.3 L694.6,98.8 L695.2,97.8 L695.8,96.7 L696.4,96.1 L697.0,95.3" stroke="#e9dbff" stroke-width="2.0"/>
<path d="M477.6,3.7 L477.7,2.9 L477.8,4.8 L477.8,5.1 L477.9,6.3 L478.1,7.0 L478.2,8.9 L478.4,10.4 L478.6,12.6 L478.8,15.7 L479.1,18.5 L479.3,21.0 L479.6,23.6 L479.9,26.3 L480.1,28.7 L480.4,30.7 L480.7,33.0 L481.0,34.8 L481.3,38.1 L481.7,39.5 L482.1,42.1 L482.5,43.7 L483.0,46.1 L483.4,47.8 L483.8,49.2 L484.2,51.2 L484.6,52.1 L484.9,54.3 L485.3,54.9 L485.6,57.0 L486.0,58.7 L486.4,59.9 L486.7,61.1 L487.0,62.4 L487.4,64.0 L487.8,65.8 L488.2,67.1 L488.6,68.2 L489.1,69.3 L489.6,71.3 L490.1,72.0 L490.7,73.6 L491.3,74.8 L492.0,76.4 L492.7,77.3 L493.4,78.4 L494.2,79.2 L495.1,79.8 L496.0,81.1 L497.0,82.1 L498.0,82.4 L499.1,83.2 L500.2,83.6 L501.3,84.5 L502.4,84.9 L503.5,85.5 L504.6,85.7 L505.7,86.5 L506.9,86.2 L508.0,86.5 L509.3,86.7 L510.7,87.3 L512.1,87.1 L513.6,87.2 L515.1,87.8 L516.5,88.1 L517.9,88.0 L519.1,87.2 L520.3,88.0 L521.4,88.2 L522.5,88.4 L523.7,88.9 L525.0,89.8 L526.5,89.4 L528.0,89.4 L529.6,90.1 L531.3,90.1 L533.0,90.3 L534.6,90.4 L536.2,91.0 L537.8,91.6 L539.4,91.3 L541.0,92.0 L542.6,93.3 L544.2,93.8 L545.8,93.8 L547.4,94.1 L549.0,94.9 L550.6,95.0 L552.2,95.8 L553.8,96.9 L555.4,97.0 L557.0,97.8 L558.6,97.9 L560.2,98.6 L561.8,99.5 L563.4,99.2 L565.0,100.1 L566.6,100.7 L568.2,101.4 L569.8,102.4 L571.4,102.7 L573.0,102.6 L574.6,103.6 L576.2,104.1 L577.9,104.7 L579.5,106.3 L581.0,106.0 L582.5,107.0 L583.9,107.2 L585.1,108.2 L586.3,108.6 L587.5,109.0 L588.7,109.4 L590.0,110.3 L591.4,110.0 L592.8,110.5 L594.2,110.8 L595.7,112.0 L597.2,111.9 L598.6,112.2 L600.0,112.9 L601.5,114.4 L602.9,114.2 L604.3,115.1 L605.8,115.6 L607.2,116.0 L608.6,116.3 L610.1,116.8 L611.6,117.3 L613.0,117.1 L614.5,119.0 L615.9,118.9 L617.3,119.0 L618.8,119.3 L620.2,119.5 L621.6,120.4 L623.1,120.4 L624.5,121.0 L626.0,120.7 L627.4,121.6 L628.9,122.4 L630.4,122.0 L631.8,122.6 L633.1,122.5 L634.3,123.0 L635.4,123.1 L636.4,122.9 L637.5,122.7 L638.7,123.0 L640.0,122.9 L641.5,122.7 L643.2,123.0 L644.9,122.9 L646.7,122.3 L648.5,122.4 L650.3,123.1 L652.0,122.0 L653.7,121.4 L655.4,121.6 L657.1,120.1 L658.8,118.9 L660.5,118.6 L662.2,118.2 L664.0,118.2 L665.8,117.9 L667.6,116.3 L669.3,116.7 L671.1,115.3 L672.9,115.0 L674.8,114.2 L676.6,113.3 L678.4,112.2 L680.1,111.3 L681.6,110.0 L682.9,109.7 L684.1,109.1 L685.1,108.3 L686.1,108.1 L687.1,106.8 L688.0,105.8 L689.0,105.2 L689.9,103.7 L690.8,102.2 L691.6,100.9 L692.4,101.0 L693.2,99.8 L693.9,99.0 L694.6,97.7 L695.2,97.1 L695.8,96.7 L696.4,95.4 L697.0,94.0" stroke="#d4b2fc" stroke-width="2.0"/>
<path d="M477.6,3.3 L477.7,3.5 L477.8,3.9 L477.8,4.1 L477.9,5.7 L478.1,7.2 L478.2,8.3 L478.4,10.4 L478.6,13.0 L478.8,15.1 L479.1,19.1 L479.3,20.7 L479.6,23.7 L479.9,26.9 L480.1,28.4 L480.4,30.8 L480.7,32.9 L481.0,35.4 L481.3,36.7 L481.7,39.3 L482.1,42.1 L482.5,43.5 L483.0,45.3 L483.4,47.3 L483.8,49.1 L484.2,50.7 L484.6,52.4 L484.9,53.2 L485.3,55.4 L485.6,56.5 L486.0,58.4 L486.4,59.6 L486.7,60.7 L487.0,62.5 L487.4,63.6 L487.8,65.6 L488.2,66.7 L488.6,68.4 L489.1,69.1 L489.6,71.4 L490.1,72.2 L490.7,74.0 L491.3,75.1 L492.0,75.5 L492.7,77.1 L493.4,77.8 L494.2,79.0 L495.1,80.2 L496.0,80.8 L497.0,81.7 L498.0,81.6 L499.1,82.7 L500.2,83.3 L501.3,84.1 L502.4,84.0 L503.5,84.9 L504.6,85.2 L505.7,84.9 L506.9,85.3 L508.0,86.1 L509.3,85.8 L510.7,86.0 L512.1,86.8 L513.6,86.7 L515.1,86.7 L516.5,86.9 L517.9,86.9 L519.1,87.1 L520.3,87.3 L521.4,87.9 L522.5,88.4 L523.7,88.1 L525.0,88.4 L526.5,88.6 L528.0,88.4 L529.6,89.1 L531.3,89.5 L533.0,89.2 L534.6,90.1 L536.2,90.0 L537.8,91.0 L539.4,91.5 L541.0,91.6 L542.6,91.6 L544.2,92.6 L545.8,92.7 L547.4,93.2 L549.0,94.1 L550.6,95.0 L552.2,95.1 L553.8,95.5 L555.4,95.5 L557.0,96.4 L558.6,96.7 L560.2,97.9 L561.8,98.1 L563.4,98.8 L565.0,99.4 L566.6,99.9 L568.2,100.8 L569.8,101.3 L571.4,101.6 L573.0,102.3 L574.6,103.1 L576.2,104.0 L577.9,104.3 L579.5,105.3 L581.0,105.3 L582.5,106.0 L583.9,106.2 L585.1,107.4 L586.3,107.3 L587.5,107.8 L588.7,108.9 L590.0,108.9 L591.4,109.3 L592.8,110.3 L594.2,110.3 L595.7,111.1 L597.2,111.1 L598.6,111.9 L600.0,112.6 L601.5,112.9 L602.9,114.0 L604.3,113.9 L605.8,114.6 L607.2,115.2 L608.6,116.0 L610.1,116.1 L611.6,116.4 L613.0,117.1 L614.5,117.8 L615.9,117.7 L617.3,117.8 L618.8,118.5 L620.2,119.2 L621.6,119.1 L623.1,119.7 L624.5,119.4 L626.0,120.3 L627.4,120.7 L628.9,121.2 L630.4,121.3 L631.8,121.7 L633.1,121.4 L634.3,122.1 L635.4,121.4 L636.4,121.9 L637.5,122.5 L638.7,122.4 L640.0,121.5 L641.5,122.3 L643.2,121.9 L644.9,121.7 L646.7,121.8 L648.5,121.6 L650.3,121.7 L652.0,120.5 L653.7,120.3 L655.4,119.9 L657.1,118.8 L658.8,119.2 L660.5,118.9 L662.2,117.6 L664.0,117.4 L665.8,116.6 L667.6,116.2 L669.3,115.3 L671.1,115.1 L672.9,113.6 L674.8,113.6 L676.6,112.3 L678.4,112.1 L680.1,109.8 L681.6,109.5 L682.9,108.3 L684.1,107.9 L685.1,107.3 L686.1,106.1 L687.1,105.1 L688.0,104.1 L689.0,103.8 L689.9,103.2 L690.8,102.1 L691.6,100.7 L692.4,99.4 L693.2,98.6 L693.9,97.3 L694.6,96.4 L695.2,96.4 L695.8,95.1 L696.4,94.5 L697.0,93.4" stroke="#b077fc" stroke-width="2.0"/>
<path d="M477.6,2.5 L477.7,3.5 L477.8,4.5 L477.8,4.8 L477.9,5.9 L478.1,7.0 L478.2,7.7 L478.4,10.5 L478.6,12.4 L478.8,16.0 L479.1,18.4 L479.3,20.7 L479.6,23.6 L479.9,26.0 L480.1,28.4 L480.4,31.1 L480.7,33.1 L481.0,35.7 L481.3,37.5 L481.7,39.3 L482.1,40.9 L482.5,42.8 L483.0,45.3 L483.4,47.3 L483.8,49.3 L484.2,50.3 L484.6,52.1 L484.9,53.3 L485.3,54.9 L485.6,55.8 L486.0,58.2 L486.4,59.2 L486.7,60.9 L487.0,62.5 L487.4,63.8 L487.8,64.7 L488.2,67.0 L488.6,68.1 L489.1,69.5 L489.6,70.5 L490.1,71.5 L490.7,72.8 L491.3,74.4 L492.0,75.6 L492.7,76.4 L493.4,78.1 L494.2,78.5 L495.1,79.6 L496.0,80.3 L497.0,80.4 L498.0,81.7 L499.1,82.1 L500.2,82.1 L501.3,83.2 L502.4,83.7 L503.5,84.1 L504.6,84.5 L505.7,84.0 L506.9,84.7 L508.0,84.8 L509.3,85.2 L510.7,85.4 L512.1,85.9 L513.6,85.9 L515.1,85.5 L516.5,86.1 L517.9,86.5 L519.1,86.3 L520.3,85.9 L521.4,86.4 L522.5,86.8 L523.7,86.6 L525.0,87.3 L526.5,87.1 L528.0,87.9 L529.6,88.1 L531.3,88.0 L533.0,87.9 L534.6,88.7 L536.2,88.8 L537.8,89.2 L539.4,90.3 L541.0,90.2 L542.6,90.6 L544.2,91.8 L545.8,92.5 L547.4,93.0 L549.0,93.2 L550.6,94.1 L552.2,93.8 L553.8,95.1 L555.4,95.6 L557.0,95.3 L558.6,96.1 L560.2,96.1 L561.8,96.7 L563.4,97.8 L565.0,97.8 L566.6,98.8 L568.2,99.5 L569.8,99.9 L571.4,100.8 L573.0,101.7 L574.6,101.8 L576.2,102.7 L577.9,103.5 L579.5,103.5 L581.0,104.1 L582.5,104.1 L583.9,105.6 L585.1,106.3 L586.3,106.6 L587.5,107.6 L588.7,107.9 L590.0,108.2 L591.4,108.3 L592.8,108.5 L594.2,109.2 L595.7,109.8 L597.2,110.0 L598.6,110.4 L600.0,110.9 L601.5,111.9 L602.9,111.7 L604.3,112.8 L605.8,113.5 L607.2,114.2 L608.6,114.7 L610.1,114.9 L611.6,115.2 L613.0,115.4 L614.5,116.6 L615.9,116.8 L617.3,117.1 L618.8,117.2 L620.2,117.4 L621.6,118.5 L623.1,118.5 L624.5,119.0 L626.0,119.7 L627.4,119.0 L628.9,119.5 L630.4,120.2 L631.8,120.5 L633.1,120.2 L634.3,120.6 L635.4,120.6 L636.4,120.7 L637.5,121.0 L638.7,121.0 L640.0,121.3 L641.5,121.1 L643.2,121.3 L644.9,120.4 L646.7,120.7 L648.5,119.8 L650.3,119.5 L652.0,119.2 L653.7,119.4 L655.4,118.7 L657.1,117.5 L658.8,117.9 L660.5,117.2 L662.2,116.3 L664.0,115.7 L665.8,115.2 L667.6,114.3 L669.3,114.8 L671.1,113.1 L672.9,112.4 L674.8,111.5 L676.6,110.5 L678.4,109.5 L680.1,109.0 L681.6,107.6 L682.9,106.8 L684.1,106.1 L685.1,105.9 L686.1,104.5 L687.1,103.7 L688.0,103.3 L689.0,101.9 L689.9,101.2 L690.8,100.5 L691.6,99.3 L692.4,98.2 L693.2,97.7 L693.9,96.1 L694.6,95.2 L695.2,94.0 L695.8,93.7 L696.4,93.1 L697.0,91.8" stroke="#6f00f2" stroke-width="2.7"/>
<path d="M480.9,3.0 L481.0,3.8 L481.1,4.3 L481.1,4.7 L481.2,5.6 L481.3,6.4 L481.5,8.2 L481.7,10.6 L481.9,12.4 L482.2,15.1 L482.4,18.3 L482.7,21.0 L483.0,23.5 L483.3,25.6 L483.6,28.3 L483.9,30.9 L484.2,32.5 L484.6,35.0 L485.0,36.7 L485.5,39.0 L486.0,40.8 L486.5,43.3 L487.0,44.9 L487.5,47.2 L488.0,48.9 L488.4,50.3 L488.8,51.0 L489.2,52.9 L489.6,54.4 L490.0,55.7 L490.3,56.5 L490.6,58.2 L490.8,59.4 L491.0,60.9 L491.3,62.8 L491.6,63.6 L492.1,65.3 L492.8,67.1 L493.6,68.1 L494.4,69.8 L495.4,71.4 L496.3,72.8 L497.2,73.6 L498.1,75.1 L498.9,76.4 L499.8,76.3 L500.7,77.8 L501.5,78.3 L502.4,78.9 L503.2,80.6 L504.1,81.0 L504.9,81.2 L505.7,82.4 L506.6,83.4 L507.6,83.9 L508.6,85.0 L509.7,85.6 L510.8,86.7 L512.0,87.8 L513.2,88.0 L514.5,89.1 L515.9,89.7 L517.3,90.7 L518.8,91.1 L520.3,92.1 L521.7,93.0 L523.1,94.1 L524.3,94.8 L525.5,94.7 L526.7,95.5 L527.8,96.5 L528.9,96.3 L530.0,97.4 L531.2,98.1 L532.3,99.1 L533.5,99.5 L534.6,99.8 L535.8,100.3 L537.0,100.9 L538.2,102.0 L539.4,102.0 L540.7,102.6 L541.9,103.3 L543.1,103.7 L544.2,104.1 L545.2,104.3 L546.2,105.1 L547.1,105.4 L548.0,106.3 L549.0,106.5 L550.0,106.8 L551.1,107.5 L552.2,107.7 L553.3,108.7 L554.5,108.9 L555.7,109.6 L556.8,109.6 L557.9,110.7 L558.9,110.6 L559.9,111.1 L561.0,112.3 L562.1,112.8 L563.4,113.8 L564.8,115.1 L566.4,114.8 L568.0,115.6 L569.7,116.6 L571.4,117.5 L573.0,117.9 L574.6,118.6 L576.2,119.6 L577.9,120.2 L579.5,120.3 L581.0,121.2 L582.5,121.8 L583.9,122.0 L585.1,122.9 L586.3,123.0 L587.5,124.1 L588.7,124.2 L590.0,124.6 L591.4,124.8 L592.8,125.3 L594.2,125.1 L595.7,125.7 L597.2,126.5 L598.6,126.0 L600.0,127.2 L601.5,126.7 L602.9,127.7 L604.3,127.4 L605.8,128.1 L607.2,128.1 L608.7,127.8 L610.2,129.0 L611.7,129.3 L613.1,129.1 L614.6,129.2 L615.9,129.4 L617.1,129.4 L618.2,130.2 L619.2,129.8 L620.3,130.1 L621.5,130.0 L622.8,130.1 L624.3,129.9 L626.0,130.7 L627.8,130.2 L629.7,130.5 L631.4,130.1 L633.1,129.8 L634.6,129.7 L636.1,129.5 L637.5,129.4 L638.9,129.0 L640.3,128.8 L641.7,128.2 L643.1,128.0 L644.5,128.5 L645.9,127.4 L647.3,127.0 L648.8,127.0 L650.3,127.0 L652.0,125.6 L653.8,125.5 L655.7,124.8 L657.5,123.9 L659.1,124.2 L660.5,123.5 L661.6,123.1 L662.4,122.5 L663.1,122.5 L663.7,121.8 L664.3,121.6 L665.0,120.8 L665.8,120.4 L666.6,120.8 L667.3,119.8 L668.2,119.6 L669.0,119.0 L670.0,118.4 L671.1,117.8 L672.2,117.5 L673.4,116.5 L674.7,115.9 L675.9,115.2 L677.0,114.9 L678.1,114.0 L679.1,113.2 L680.1,112.1 L681.1,111.1 L682.1,111.1 L683.0,110.3 L683.9,109.2 L684.7,108.6 L685.5,107.9 L686.3,107.1 L687.1,106.2 L688.0,104.9 L689.0,104.4 L690.0,102.3 L691.1,101.7 L692.2,100.3 L693.2,99.3 L694.0,98.6 L694.7,97.6 L695.2,96.1 L695.7,95.3 L696.1,95.5 L696.5,94.3 L697.0,94.0" stroke="#000" stroke-width="2.3" clip-path="url(#cb2)"/>
</g>
<rect x="589.8" y="15.6" width="85.5" height="68.60000000000001" fill="#fff"/>
<g clip-path="url(#ci)" fill="none" stroke-linejoin="round" stroke-linecap="round">
<path d="M588.0,23.9 L588.7,23.9 L589.5,23.9 L590.3,24.0 L591.3,24.3 L592.4,24.8 L593.7,25.1 L595.1,25.0 L596.7,24.9 L598.3,25.0 L599.9,25.5 L601.4,26.2 L602.9,26.9 L604.2,27.5 L605.3,28.0 L606.4,28.5 L607.6,28.9 L608.8,29.3 L609.8,29.5 L610.6,29.3 L611.3,29.0 L612.1,28.8 L613.2,29.2 L614.4,29.8 L615.6,30.4 L616.6,30.9 L617.6,31.4 L618.5,31.6 L619.4,31.4 L620.3,31.0 L621.3,30.9 L622.4,31.5 L623.6,32.5 L624.8,33.3 L625.9,33.3 L627.1,33.0 L628.2,33.0 L629.4,33.3 L630.5,33.8 L631.7,34.2 L632.8,34.7 L633.9,35.1 L635.4,35.6 L637.4,36.4 L639.8,37.2 L642.1,38.1 L644.4,39.1 L646.7,40.1 L648.8,41.0 L650.7,41.7 L652.4,42.1 L654.1,42.8 L655.9,43.6 L657.7,44.6 L659.5,45.6 L661.4,46.6 L663.2,47.6 L664.9,48.2 L666.3,48.1 L667.6,47.7 L668.9,47.5 L670.2,47.9 L671.6,48.6 L672.9,49.2 L674.3,49.8 L675.6,50.3 L677.0,50.8" stroke="#e8daff" stroke-width="1.3"/>
<path d="M588.0,22.9 L588.7,22.9 L589.5,22.9 L590.3,23.0 L591.3,23.3 L592.4,23.7 L593.7,24.0 L595.1,24.0 L596.7,23.8 L598.3,23.9 L599.9,24.4 L601.4,25.1 L602.9,25.8 L604.2,26.3 L605.3,26.8 L606.4,27.3 L607.6,27.7 L608.8,28.1 L609.8,28.3 L610.6,28.1 L611.3,27.7 L612.1,27.6 L613.2,28.0 L614.4,28.6 L615.6,29.1 L616.6,29.6 L617.6,30.1 L618.5,30.3 L619.4,30.1 L620.3,29.7 L621.3,29.6 L622.4,30.3 L623.6,31.3 L624.8,32.0 L625.9,32.1 L627.1,31.9 L628.2,31.8 L629.4,32.1 L630.5,32.6 L631.7,33.1 L632.8,33.6 L633.9,34.0 L635.4,34.6 L637.4,35.4 L639.8,36.3 L642.1,37.2 L644.4,38.2 L646.7,39.3 L648.8,40.2 L650.7,40.9 L652.4,41.3 L654.1,42.0 L655.9,42.8 L657.7,43.9 L659.5,44.8 L661.4,45.9 L663.2,46.9 L664.9,47.5 L666.3,47.4 L667.6,46.9 L668.9,46.8 L670.2,47.2 L671.6,47.9 L672.9,48.5 L674.3,49.1 L675.6,49.6 L677.0,50.1" stroke="#dcc6ff" stroke-width="1.3"/>
<path d="M588.0,21.9 L588.7,21.9 L589.5,21.9 L590.3,22.0 L591.3,22.3 L592.4,22.7 L593.7,23.0 L595.1,22.9 L596.7,22.8 L598.3,22.8 L599.9,23.3 L601.4,24.0 L602.9,24.7 L604.2,25.2 L605.3,25.7 L606.4,26.2 L607.6,26.6 L608.8,27.0 L609.8,27.2 L610.6,27.0 L611.3,26.6 L612.1,26.5 L613.2,26.8 L614.4,27.4 L615.6,28.0 L616.6,28.5 L617.6,28.9 L618.5,29.2 L619.4,28.9 L620.3,28.5 L621.3,28.4 L622.4,29.1 L623.6,30.1 L624.8,30.9 L625.9,31.0 L627.1,30.7 L628.2,30.7 L629.4,31.0 L630.5,31.6 L631.7,32.1 L632.8,32.5 L633.9,33.0 L635.4,33.6 L637.4,34.4 L639.8,35.3 L642.1,36.3 L644.4,37.4 L646.7,38.4 L648.8,39.4 L650.7,40.1 L652.4,40.6 L654.1,41.2 L655.9,42.1 L657.7,43.1 L659.5,44.1 L661.4,45.1 L663.2,46.1 L664.9,46.7 L666.3,46.7 L667.6,46.2 L668.9,46.0 L670.2,46.4 L671.6,47.1 L672.9,47.8 L674.3,48.4 L675.6,48.9 L677.0,49.4" stroke="#c8a2ff" stroke-width="1.3"/>
<path d="M588.0,20.9 L588.7,20.9 L589.5,20.9 L590.3,21.0 L591.3,21.3 L592.4,21.7 L593.7,21.9 L595.1,21.9 L596.7,21.7 L598.3,21.8 L599.9,22.2 L601.4,22.9 L602.9,23.6 L604.2,24.1 L605.3,24.6 L606.4,25.1 L607.6,25.5 L608.8,25.9 L609.8,26.0 L610.6,25.8 L611.3,25.4 L612.1,25.3 L613.2,25.6 L614.4,26.2 L615.6,26.8 L616.6,27.3 L617.6,27.7 L618.5,28.0 L619.4,27.7 L620.3,27.3 L621.3,27.2 L622.4,27.9 L623.6,29.0 L624.8,29.8 L625.9,29.9 L627.1,29.6 L628.2,29.6 L629.4,30.0 L630.5,30.5 L631.7,31.1 L632.8,31.5 L633.9,32.0 L635.4,32.6 L637.4,33.4 L639.8,34.4 L642.1,35.4 L644.4,36.5 L646.7,37.6 L648.8,38.6 L650.7,39.3 L652.4,39.8 L654.1,40.4 L655.9,41.3 L657.7,42.3 L659.5,43.3 L661.4,44.3 L663.2,45.4 L664.9,46.0 L666.3,45.9 L667.6,45.5 L668.9,45.3 L670.2,45.7 L671.6,46.4 L672.9,47.1 L674.3,47.6 L675.6,48.2 L677.0,48.7" stroke="#9d58ff" stroke-width="1.3"/>
<path d="M588.0,18.9 L588.7,18.9 L589.5,18.8 L590.3,18.9 L591.3,19.2 L592.4,19.6 L593.7,19.8 L595.1,19.7 L596.7,19.5 L598.3,19.5 L599.9,19.9 L601.4,20.6 L602.9,21.2 L604.2,21.7 L605.3,22.2 L606.4,22.6 L607.6,23.0 L608.8,23.3 L609.8,23.5 L610.6,23.3 L611.3,22.9 L612.1,22.7 L613.2,23.0 L614.4,23.6 L615.6,24.1 L616.6,24.6 L617.6,25.0 L618.5,25.2 L619.4,25.0 L620.3,24.5 L621.3,24.4 L622.4,25.1 L623.6,26.1 L624.8,26.9 L625.9,27.0 L627.1,26.7 L628.2,26.7 L629.4,27.0 L630.5,27.6 L631.7,28.1 L632.8,28.5 L633.9,29.0 L635.4,29.6 L637.4,30.4 L639.8,31.3 L642.1,32.3 L644.4,33.4 L646.7,34.4 L648.8,35.4 L650.7,36.1 L652.4,36.6 L654.1,37.2 L655.9,38.1 L657.7,39.1 L659.5,40.1 L661.4,41.1 L663.2,42.2 L664.9,42.8 L666.3,42.7 L667.6,42.3 L668.9,42.1 L670.2,42.5 L671.6,43.2 L672.9,43.9 L674.3,44.4 L675.6,45.0 L677.0,45.5" stroke="#6f00f2" stroke-width="1.7"/>
<path d="M588.0,38.4 L588.6,38.3 L589.2,38.2 L590.3,38.4 L592.3,39.2 L594.8,40.4 L597.2,41.5 L599.3,42.6 L601.4,43.6 L603.3,44.6 L604.8,45.3 L606.2,45.9 L607.9,46.9 L610.4,48.8 L613.1,51.1 L615.6,52.7 L617.4,53.0 L618.8,52.7 L620.2,52.7 L621.7,53.6 L623.2,54.9 L624.8,56.1 L626.8,57.0 L629.0,57.7 L630.9,58.4 L632.3,59.0 L633.4,59.6 L634.6,60.3 L636.1,61.3 L637.6,62.5 L639.2,63.4 L640.7,63.9 L642.2,64.1 L643.8,64.6 L645.7,65.6 L647.8,66.8 L649.9,68.0 L652.0,69.1 L654.0,70.1 L656.1,71.1 L658.2,72.0 L660.3,72.9 L662.2,73.8 L663.9,74.8 L665.4,75.7 L666.8,76.4 L668.1,76.5 L669.3,76.4 L670.6,76.4 L672.2,76.9 L673.8,77.5 L675.2,78.0 L676.0,78.3 L676.5,78.4 L677.0,78.6" stroke="#000" stroke-width="1.9"/>
</g>
<g stroke="#111" stroke-width="1.6" fill="none">
<path d="M82,8 H330 V203 H82 V203"/>
<path d="M89,8 V209.5"/>
<path d="M82,203.00 H89"/>
<path d="M82,164.00 H89"/>
<path d="M82,125.00 H89"/>
<path d="M82,86.00 H89"/>
<path d="M82,47.00 H89"/>
<path d="M82,8.00 H89"/>
<path d="M85.5,183.50 H89"/>
<path d="M85.5,144.50 H89"/>
<path d="M85.5,105.50 H89"/>
<path d="M85.5,66.50 H89"/>
<path d="M85.5,27.50 H89"/>
<path d="M89.00,203 V209.5"/>
<path d="M129.17,203 V209.5"/>
<path d="M169.33,203 V209.5"/>
<path d="M209.50,203 V209.5"/>
<path d="M249.67,203 V209.5"/>
<path d="M289.83,203 V209.5"/>
<path d="M330.00,203 V209.5"/>
<path d="M109.08,203 V206.5"/>
<path d="M149.25,203 V206.5"/>
<path d="M189.42,203 V206.5"/>
<path d="M229.58,203 V206.5"/>
<path d="M269.75,203 V206.5"/>
<path d="M309.92,203 V206.5"/>
</g>
<g font-size="16.3">
<text x="72.5" y="207.90" text-anchor="end">0.00</text>
<text x="72.5" y="168.90" text-anchor="end">0.05</text>
<text x="72.5" y="129.90" text-anchor="end">0.10</text>
<text x="72.5" y="90.90" text-anchor="end">0.15</text>
<text x="72.5" y="51.90" text-anchor="end">0.20</text>
<text x="72.5" y="12.90" text-anchor="end">0.25</text>
<text x="89.00" y="232" text-anchor="middle">400</text>
<text x="129.17" y="232" text-anchor="middle">425</text>
<text x="169.33" y="232" text-anchor="middle">450</text>
<text x="209.50" y="232" text-anchor="middle">475</text>
<text x="249.67" y="232" text-anchor="middle">500</text>
<text x="289.83" y="232" text-anchor="middle">525</text>
<text x="330.00" y="232" text-anchor="middle">550</text>
<text x="209.80" y="254.7" text-anchor="middle" font-size="16.7">Wavelength (nm)</text>
<text transform="translate(28.700000000000003,107.5) rotate(-90)" text-anchor="middle" font-size="16.6">Absorbance</text>
</g>
<g stroke="#111" stroke-width="1.6" fill="none">
<path d="M446,8 H694 V203 H446 V203"/>
<path d="M453,8 V209.5"/>
<path d="M446,203.00 H453"/>
<path d="M446,164.00 H453"/>
<path d="M446,125.00 H453"/>
<path d="M446,86.00 H453"/>
<path d="M446,47.00 H453"/>
<path d="M446,8.00 H453"/>
<path d="M449.5,183.50 H453"/>
<path d="M449.5,144.50 H453"/>
<path d="M449.5,105.50 H453"/>
<path d="M449.5,66.50 H453"/>
<path d="M449.5,27.50 H453"/>
<path d="M453.00,203 V209.5"/>
<path d="M493.17,203 V209.5"/>
<path d="M533.33,203 V209.5"/>
<path d="M573.50,203 V209.5"/>
<path d="M613.67,203 V209.5"/>
<path d="M653.83,203 V209.5"/>
<path d="M694.00,203 V209.5"/>
<path d="M473.08,203 V206.5"/>
<path d="M513.25,203 V206.5"/>
<path d="M553.42,203 V206.5"/>
<path d="M593.58,203 V206.5"/>
<path d="M633.75,203 V206.5"/>
<path d="M673.92,203 V206.5"/>
</g>
<g font-size="16.3">
<text x="436.5" y="207.90" text-anchor="end">0.00</text>
<text x="436.5" y="168.90" text-anchor="end">0.05</text>
<text x="436.5" y="129.90" text-anchor="end">0.10</text>
<text x="436.5" y="90.90" text-anchor="end">0.15</text>
<text x="436.5" y="51.90" text-anchor="end">0.20</text>
<text x="436.5" y="12.90" text-anchor="end">0.25</text>
<text x="453.00" y="232" text-anchor="middle">400</text>
<text x="493.17" y="232" text-anchor="middle">425</text>
<text x="533.33" y="232" text-anchor="middle">450</text>
<text x="573.50" y="232" text-anchor="middle">475</text>
<text x="613.67" y="232" text-anchor="middle">500</text>
<text x="653.83" y="232" text-anchor="middle">525</text>
<text x="694.00" y="232" text-anchor="middle">550</text>
<text x="563.10" y="254.7" text-anchor="middle" font-size="16.7">Wavelength (nm)</text>
<text transform="translate(392.7,107.3) rotate(-90)" text-anchor="middle" font-size="16.6">Absorbance</text>
</g>
<g stroke="#222" stroke-width="1.2" fill="none">
<path d="M585.8,15.6 H675.3 V84.2"/>
<path d="M589.8,15.6 V88.2"/>
<path d="M585.8,84.2 H675.3"/>
<path d="M585.8,84.20 H589.8"/>
<path d="M585.8,49.90 H589.8"/>
<path d="M585.8,15.60 H589.8"/>
<path d="M587.8,67.05 H589.8"/>
<path d="M587.8,32.75 H589.8"/>
<path d="M589.80,84.2 V88.2"/>
<path d="M632.55,84.2 V88.2"/>
<path d="M675.30,84.2 V88.2"/>
<path d="M611.17,84.2 V86.7"/>
<path d="M653.92,84.2 V86.7"/>
</g>
<g font-size="8.1" class="ins">
<text x="580.3" y="87.00" text-anchor="end">0.100</text>
<text x="580.3" y="52.70" text-anchor="end">0.125</text>
<text x="580.3" y="18.40" text-anchor="end">0.150</text>
<text x="589.80" y="99.9" text-anchor="middle">450</text>
<text x="632.55" y="99.9" text-anchor="middle">465</text>
<text x="675.30" y="99.9" text-anchor="middle">480</text>
</g>
<g font-size="11.9" class="leg">
<path d="M266.1,19.6 H294.40000000000003" stroke="#000" stroke-width="2.4"/>
<text x="296.70000000000005" y="23.5">dark</text>
<text x="267.3" y="38.5">UV on:</text>
<path d="M266.1,48.8 H294.40000000000003" stroke="#f4edff" stroke-width="2.2"/>
<text x="297.3" y="52.9">1 min</text>
<path d="M266.1,63.4 H294.40000000000003" stroke="#e9dbff" stroke-width="2.2"/>
<text x="297.3" y="67.5">2 min</text>
<path d="M266.1,78.0 H294.40000000000003" stroke="#d4b2fc" stroke-width="2.2"/>
<text x="297.3" y="82.1">3 min</text>
<path d="M266.1,92.6 H294.40000000000003" stroke="#b077fc" stroke-width="2.2"/>
<text x="297.3" y="96.7">4 min</text>
<path d="M266.1,107.2 H294.40000000000003" stroke="#6f00f2" stroke-width="2.8"/>
<text x="297.3" y="111.3">5 min</text>
</g>
<g font-size="11.9" class="leg">
<path d="M461.1,105.9 H489.40000000000003" stroke="#000" stroke-width="2.4"/>
<text x="491.70000000000005" y="109.8">dark</text>
<text x="462.3" y="124.8">UV on:</text>
<path d="M461.1,135.1 H489.40000000000003" stroke="#f4edff" stroke-width="2.2"/>
<text x="492.3" y="139.2">1 min</text>
<path d="M461.1,149.7 H489.40000000000003" stroke="#e9dbff" stroke-width="2.2"/>
<text x="492.3" y="153.8">2 min</text>
<path d="M461.1,164.3 H489.40000000000003" stroke="#d4b2fc" stroke-width="2.2"/>
<text x="492.3" y="168.4">3 min</text>
<path d="M461.1,178.9 H489.40000000000003" stroke="#b077fc" stroke-width="2.2"/>
<text x="492.3" y="183.0">4 min</text>
<path d="M461.1,193.5 H489.40000000000003" stroke="#6f00f2" stroke-width="2.8"/>
<text x="492.3" y="197.6">5 min</text>
</g>
<g font-size="16.5"><text x="109" y="178.6">without dye</text><text x="613.2" y="178.7">with dye</text></g>
<g font-size="23.5"><text x="0.6" y="22">(a)</text><text x="366.6" y="20.6">(b)</text></g>
</svg></body></html>
